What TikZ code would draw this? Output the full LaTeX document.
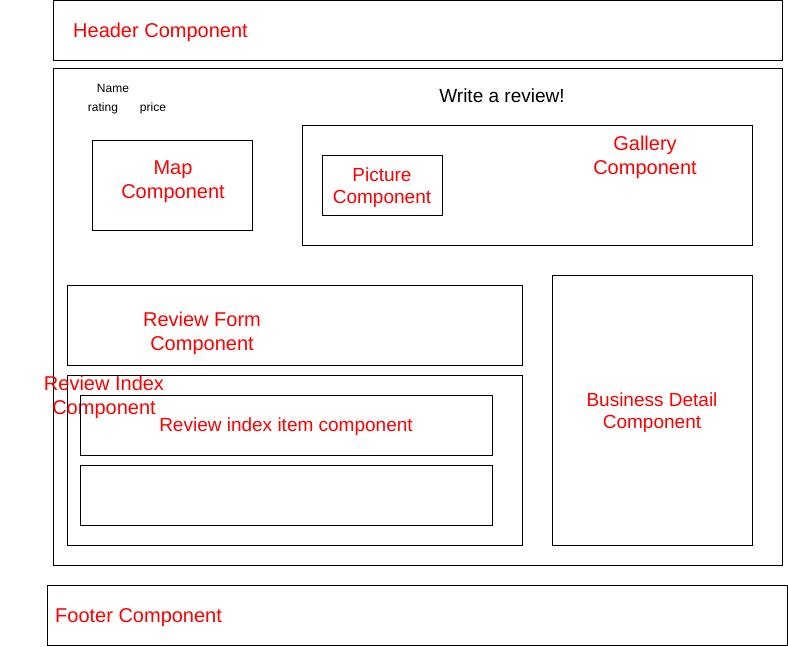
\documentclass[tikz,border=0pt]{standalone}
\usepackage{fontspec}
\setmainfont{Liberation Sans}
\tikzset{
  font={\fontsize{20pt}{24pt}\selectfont}}

\begin{document}
\begin{tikzpicture}[x=1pt,y=1pt]
\tikzstyle{every node}+=[inner sep=0pt]
\tikzstyle{comp}=[red, align=center]
\tikzstyle{small}=[red, align=center, font={\fontsize{19pt}{22pt}\selectfont}]
\tikzstyle{meta}=[black, font={\fontsize{12pt}{14pt}\selectfont}]
\useasboundingbox (0,0) rectangle (788,-646);
\draw [black, line width=1pt] (53,-0.5) rectangle (782,-60);
\draw (73,-37) node [comp, anchor=base west] (hdr) {Header Component};
\draw [black, line width=1pt] (53,-68) rectangle (782,-565);
\draw (113,-88) node [meta] (name) {Name};
\draw (103,-108) node [meta] (rating) {rating};
\draw (153,-108) node [meta] (price) {price};
\draw (502,-96) node [black, font={\fontsize{19pt}{22pt}\selectfont}] (write) {Write a review!};
\draw [black, line width=1pt] (92,-140) rectangle (252,-230);
\draw (173,-182) node [comp] (map) {Map\\Component};
\draw [black, line width=1pt] (302,-125) rectangle (752,-245);
\draw (645,-157) node [comp] (gallery) {Gallery\\Component};
\draw [black, line width=1pt] (322,-155) rectangle (442,-215);
\draw (382,-188) node [small] (picture) {Picture\\Component};
\draw [black, line width=1pt] (67,-285) rectangle (522,-365);
\draw (202,-333) node [comp] (form) {Review Form\\Component};
\draw [black, line width=1pt] (67,-375) rectangle (522,-545);
\draw (104,-397) node [comp] (index) {Review Index\\Component};
\draw [black, line width=1pt] (80,-395) rectangle (492,-455);
\draw (286,-427) node [small] (item) {Review index item component};
\draw [black, line width=1pt] (80,-465) rectangle (492,-525);
\draw [black, line width=1pt] (552,-275) rectangle (752,-545);
\draw (652,-413) node [small] (business) {Business Detail\\Component};
\draw [black, line width=1pt] (47,-585) rectangle (787,-645);
\draw (55,-622) node [comp, anchor=base west] (ftr) {Footer Component};
\end{tikzpicture}
\end{document}
